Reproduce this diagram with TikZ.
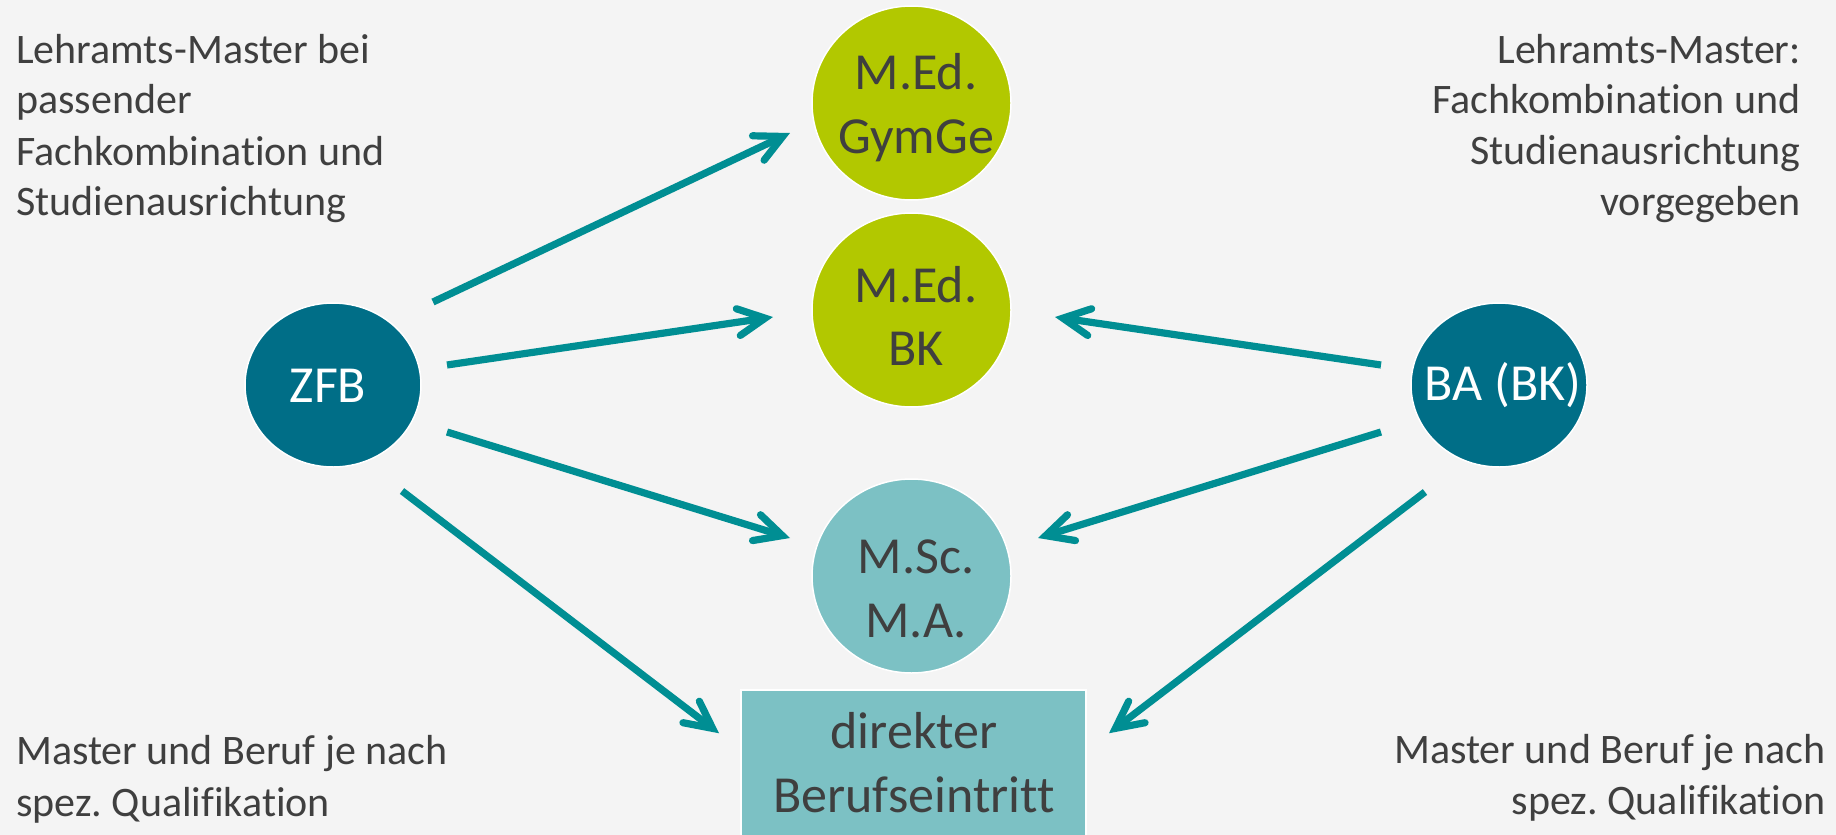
\documentclass[tikz,border=0pt]{standalone}
\usepackage{fontspec}
\setmainfont{Carlito}[Ligatures=NoCommon]
\frenchspacing
\usetikzlibrary{shapes.geometric,arrows.meta,calc}
\definecolor{bgc}{HTML}{F4F4F4}
\definecolor{darkteal}{HTML}{006E87}
\definecolor{lime}{HTML}{B2C800}
\definecolor{lightteal}{HTML}{7CC1C4}
\definecolor{arrowc}{HTML}{008E93}
\definecolor{txtc}{HTML}{3F3F3F}
\begin{document}
\begin{tikzpicture}[x=1pt,y=-1pt,
  blob/.style={ellipse,draw=white,line width=1.5pt,inner sep=0pt},
  bigcirc/.style={blob,minimum width=199pt,minimum height=194pt},
  smallcirc/.style={blob,fill=darkteal,minimum width=176pt,minimum height=164pt},
  boxnode/.style={rectangle,draw=white,line width=1.5pt,fill=lightteal,inner sep=0pt,minimum width=345pt,minimum height=160pt},
  nodetext/.style={font=\fontsize{52}{62}\selectfont,text=txtc,inner sep=0pt,anchor=base},
  sidetext/.style={font=\fontsize{42}{50}\selectfont,text=txtc,inner sep=0pt},
  conn/.style={draw=arrowc,line width=7.2pt,-{Straight Barb[length=27pt,width=27pt,line cap=round,line join=miter]}}]
\useasboundingbox (0,0) rectangle (1836,835);
\fill[bgc] (0,0) rectangle (1836,835);

% shapes
\node[bigcirc,fill=lime] (gym) at (911.5,103) {};
\node[bigcirc,fill=lime] (bk) at (911.5,310) {};
\node[bigcirc,fill=lightteal] (msc) at (911.5,576) {};
\node[boxnode] (job) at (913.5,770) {};
\node[smallcirc] (zfb) at (333,385) {};
\node[smallcirc] (ba) at (1499,385) {};

% texts in shapes
\node[nodetext] (gym1) at (916,89) {M.Ed.};
\node[nodetext] (gym2) at (916,153) {GymGe};
\node[nodetext] (bk1) at (916,302) {M.Ed.};
\node[nodetext] (bk2) at (916,365) {BK};
\node[nodetext] (msc1) at (916,573) {M.Sc.};
\node[nodetext] (msc2) at (916,637) {M.A.};
\node[nodetext] (job1) at (914,748) {direkter};
\node[nodetext] (job2) at (914,812) {Berufseintritt};
\node[nodetext,text=white] (zfbt) at (328,402) {ZFB};
\node[nodetext,text=white] (bat) at (1503,400) {BA (BK)};

% side texts
\node[sidetext,anchor=base west] (tl1) at (16,63) {Lehramts-Master bei};
\node[sidetext,anchor=base west] (tl2) at (16,113) {passender};
\node[sidetext,anchor=base west] (tl3) at (16,165) {Fachkombination und};
\node[sidetext,anchor=base west] (tl4) at (16,215) {Studienausrichtung};

\node[sidetext,anchor=base east] (tr1) at (1801,63) {Lehramts-Master:};
\node[sidetext,anchor=base east] (tr2) at (1801,113) {Fachkombination und};
\node[sidetext,anchor=base east] (tr3) at (1801,164) {Studienausrichtung};
\node[sidetext,anchor=base east] (tr4) at (1801,215) {vorgegeben};

\node[sidetext,anchor=base west] (bl1) at (16,764) {Master und Beruf je nach};
\node[sidetext,anchor=base west] (bl2) at (16,816) {spez. Qualifikation};

\node[sidetext,anchor=base east] (br1) at (1826,763) {Master und Beruf je nach};
\node[sidetext,anchor=base east] (br2) at (1826,814) {spez. Qualifikation};

% connectors
\draw[conn] ($(zfb)+(100,-83)$) -- ($(gym)+(-121.5,30)$);
\draw[conn] ($(zfb)+(114,-20)$) -- ($(bk)+(-138.5,7)$);
\draw[conn] ($(zfb)+(114,47)$) -- ($(msc)+(-121.5,-38)$);
\draw[conn] ($(zfb)+(69,106)$) -- ($(job.north)+(-194.5,44)$);
\draw[conn] ($(ba)+(-118,-20)$) -- ($(bk)+(143.5,7)$);
\draw[conn] ($(ba)+(-118,47)$) -- ($(msc)+(126.5,-38)$);
\draw[conn] ($(ba)+(-74,107)$) -- ($(job.north)+(195.5,44)$);
\end{tikzpicture}
\end{document}
